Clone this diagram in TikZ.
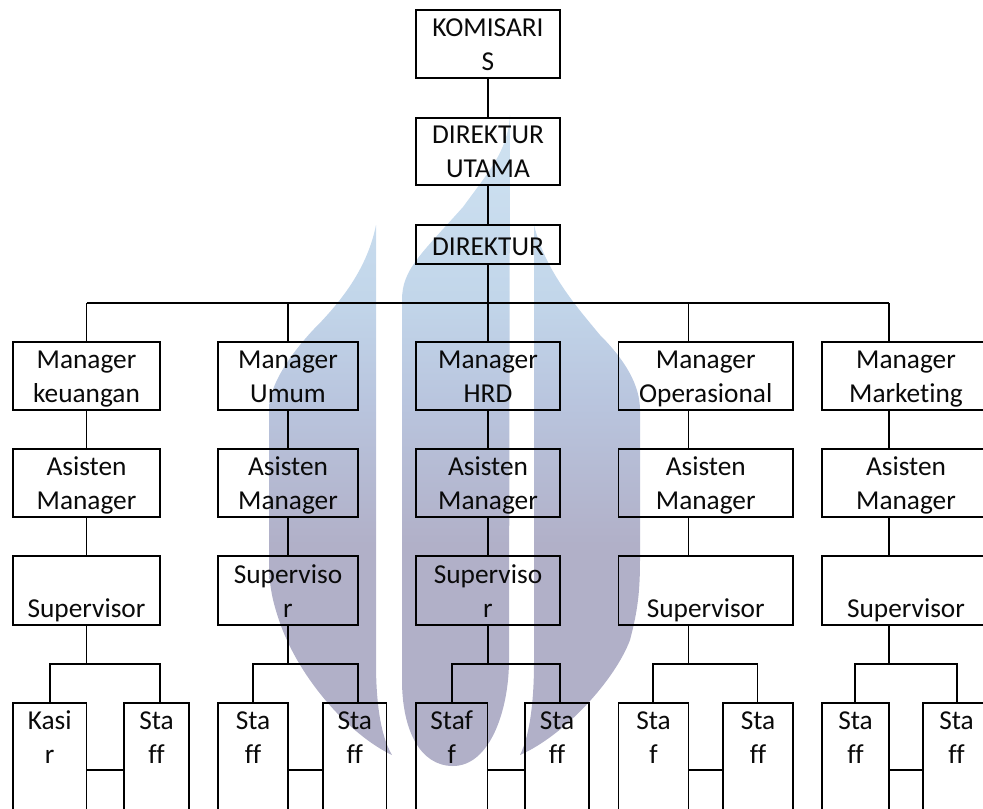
\documentclass[tikz,border=0pt]{standalone}
\usepackage{fontspec}
\setmainfont[RawFeature={-liga}]{Carlito}
\definecolor{inkc}{HTML}{0A0A0A}
\definecolor{wmb}{HTML}{B1B0C8}
\definecolor{wmm}{HTML}{B9C5DE}
\definecolor{wmn}{HTML}{C2D6EA}
\definecolor{wmt}{HTML}{D0E3F2}
\pgfdeclareverticalshading{wmshade}{100bp}{
  color(0bp)=(wmb); color(25bp)=(wmb); color(42bp)=(wmb);
  color(53bp)=(wmm); color(61bp)=(wmn); color(75bp)=(wmt); color(100bp)=(wmt)}
\tikzset{
  orgnode/.style={draw=black,line width=1.35pt,inner sep=0pt,outer sep=0pt,anchor=north west,text=inkc,font=\fontsize{20.5}{25.5}\selectfont},
  thinline/.style={draw=black,line width=0.8pt},
  thickline/.style={draw=black,line width=1.5pt}
}
% name, x1, y1, x2, y2, first-baseline offset (px), text
\newcommand{\orgbx}[7]{%
  \pgfmathsetmacro{\orgW}{(#4-#2)*0.75}%
  \pgfmathsetmacro{\orgH}{(#5-#3)*0.75}%
  \pgfmathsetmacro{\orgK}{#6*0.75}%
  \node[orgnode] (#1) at (#2,#3) {\parbox[c][\orgH pt][t]{\orgW pt}{\centering\baselineskip=25.5pt\rule{0pt}{\orgK pt}#7}};%
}
\begin{document}
\begin{tikzpicture}[x=0.75pt,y=-0.75pt]
\useasboundingbox (0,0) rectangle (983,808);
\path[clip] (0,0) rectangle (983,808);
% watermark
\shade[shading=wmshade]
  (376,225) -- (376,663) .. controls (376,700) and (380,735) .. (392,755)
  .. controls (350,735) and (300,680) .. (280,623)
  .. controls (272,600) and (269,585) .. (269,560) -- (269,410)
  .. controls (269,385) and (290,355) .. (313,330)
  .. controls (345,298) and (368,265) .. (376,225) -- cycle
  (402,300) .. controls (402,270) and (420,255) .. (463,207)
  .. controls (490,170) and (508,150) .. (510,115) -- (509,660)
  .. controls (509,710) and (490,766) .. (453,766)
  .. controls (420,766) and (402,730) .. (402,680) -- cycle
  (534,225) -- (534,663) .. controls (534,700) and (530,735) .. (520,755)
  .. controls (565,735) and (615,680) .. (630,640)
  .. controls (638,610) and (640,590) .. (640,560) -- (640,410)
  .. controls (640,385) and (625,360) .. (600,335)
  .. controls (575,305) and (545,270) .. (534,225) -- cycle;
% top
\orgbx{kom}{416}{10}{560}{78}{26}{KOMISARI\\S}
\orgbx{dirut}{416}{118}{560}{185}{25}{DIREKTUR\\UTAMA}
\orgbx{dir}{416}{225}{560}{264}{30}{DIREKTUR}
% managers
\orgbx{mgra}{13}{342}{160}{410}{26}{Manager\\keuangan}
\orgbx{mgrb}{218}{342}{358}{410}{26}{Manager\\Umum}
\orgbx{mgrc}{416}{342}{560}{410}{26}{Manager\\HRD}
\orgbx{mgrd}{618.5}{342}{793}{410}{26}{Manager\\Operasional}
\orgbx{mgre}{822}{342}{990}{410}{26}{Manager\\Marketing}
% assistants
\orgbx{asa}{13}{449}{160}{517}{26}{Asisten\\Manager}
\orgbx{asb}{218}{449}{358}{517}{26}{Asisten\\Manager}
\orgbx{asc}{416}{449}{560}{517}{26}{Asisten\\Manager}
\orgbx{asd}{618.5}{449}{793}{517}{26}{Asisten\\Manager}
\orgbx{ase}{822}{449}{990}{517}{26}{Asisten\\Manager}
% supervisors
\orgbx{spa}{13}{556}{160}{625}{27}{\mbox{}\\Supervisor}
\orgbx{spb}{218}{556}{358}{625}{27}{Superviso\\r}
\orgbx{spc}{416}{556}{560}{625}{27}{Superviso\\r}
\orgbx{spd}{618.5}{556}{793}{625}{27}{\mbox{}\\Supervisor}
\orgbx{spe}{822}{556}{990}{625}{27}{\mbox{}\\Supervisor}
% staff
\orgbx{sa}{13}{703}{86.5}{837}{26}{Kasi\\r}
\orgbx{sb}{124}{703}{189}{837}{26}{Sta\\ff}
\orgbx{sc}{218}{703}{288}{837}{26}{Sta\\ff}
\orgbx{sd}{323}{703}{386.5}{837}{26}{Sta\\ff}
\orgbx{se}{416}{703}{487.5}{837}{26}{Staf\\f}
\orgbx{sf}{525}{703}{589}{837}{26}{Sta\\ff}
\orgbx{sg}{618.5}{703}{688.5}{837}{26}{Sta\\f}
\orgbx{sh}{723}{703}{793}{837}{26}{Sta\\ff}
\orgbx{si}{822}{703}{889}{837}{26}{Sta\\ff}
\orgbx{sj}{923}{703}{990}{837}{26}{Sta\\ff}
% coordinates
\coordinate (busa) at (86.5,303);
\coordinate (busb) at (288,303);
\coordinate (busc) at (488,303);
\coordinate (busd) at (688.5,303);
\coordinate (buse) at (889,303);
\coordinate (la) at (50,664);  \coordinate (ra) at (160,664);
\coordinate (lb) at (253,664); \coordinate (rb) at (358,664);
\coordinate (lc) at (452,664); \coordinate (rc) at (560,664);
\coordinate (ld) at (653,664); \coordinate (rd) at (757.5,664);
\coordinate (le) at (855,664); \coordinate (re) at (957,664);
% top connectors
\draw[thinline] (kom.south) -- (dirut.north);
\draw[thinline] (dirut.south) -- (dir.north);
\draw[thinline] (dir.south) -- (busc);
\draw[thickline] (busa) -- (buse);
% col a
\draw[thinline] (busa) -- (mgra.north);
\draw[thinline] (mgra.south) -- (asa.north);
\draw[thinline] (asa.south) -- (spa.north);
\draw[thinline] (spa.south) -- (spa.south |- la);
\draw[thickline] (la |- sa.north) -- (la) -- (ra) -- (ra |- sb.north);
\draw[thickline] (sa.east) -- (sb.west);
% col b
\draw[thickline] (busb) -- (mgrb.north);
\draw[thickline] (mgrb.south) -- (asb.north);
\draw[thickline] (asb.south) -- (spb.north);
\draw[thickline] (spb.south) -- (spb.south |- lb);
\draw[thickline] (lb |- sc.north) -- (lb) -- (rb) -- (rb |- sd.north);
\draw[thinline] (sc.east) -- (sd.west);
% col c
\draw[thinline] (busc) -- (mgrc.north);
\draw[thinline] (mgrc.south) -- (asc.north);
\draw[thinline] (asc.south) -- (spc.north);
\draw[thinline] (spc.south) -- (spc.south |- lc);
\draw[thickline] (lc |- se.north) -- (lc) -- (rc) -- (rc |- sf.north);
\draw[thickline] (se.east) -- (sf.west);
% col d
\draw[thinline] (busd) -- (busd |- mgrd.north);
\draw[thinline] (busd |- mgrd.south) -- (busd |- asd.north);
\draw[thinline] (busd |- asd.south) -- (busd |- spd.north);
\draw[thinline] (busd |- spd.south) -- (busd |- ld);
\draw[thickline] (ld |- sg.north) -- (ld) -- (rd);
\draw[thinline] (rd) -- (rd |- sh.north);
\draw[thickline] (sg.east) -- (sh.west);
% col e
\draw[thickline] (buse) -- (buse |- mgre.north);
\draw[thickline] (buse |- mgre.south) -- (buse |- ase.north);
\draw[thickline] (buse |- ase.south) -- (buse |- spe.north);
\draw[thickline] (buse |- spe.south) -- (buse |- le);
\draw[thickline] (le |- si.north) -- (le) -- (re) -- (re |- sj.north);
\draw[thickline] (si.east) -- (sj.west);
\end{tikzpicture}
\end{document}
